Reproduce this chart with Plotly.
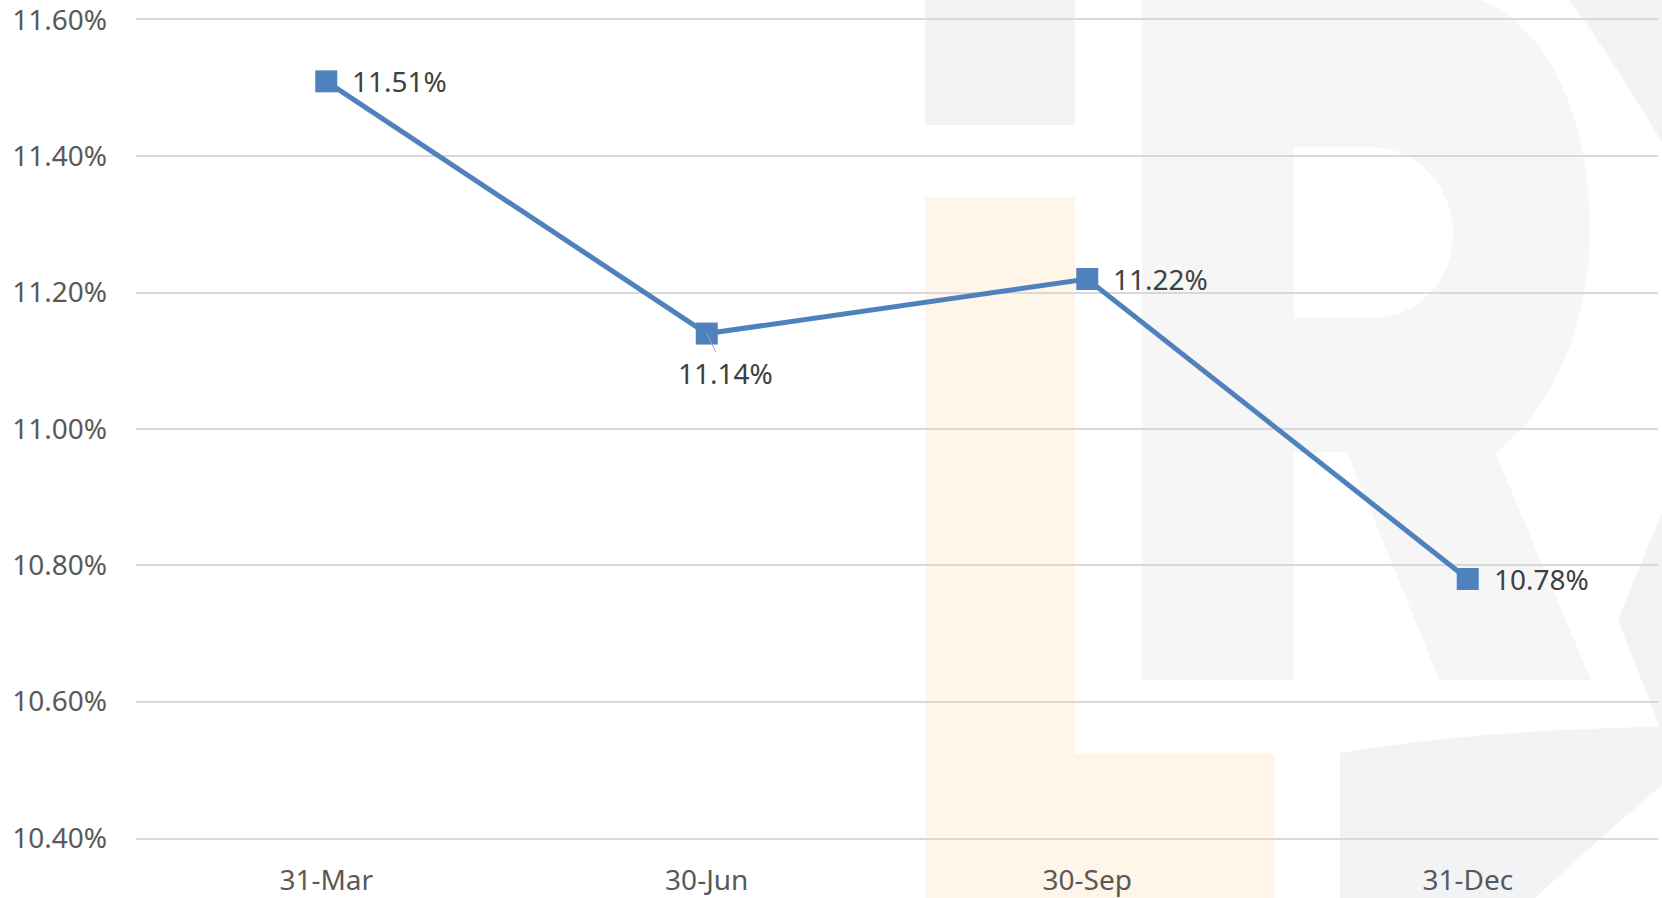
"""Ratio trimestriel avec filigrane en arrière-plan."""

import plotly.graph_objects as go

# Données
quarters = ["31-Mar", "30-Jun", "30-Sep", "31-Dec"]
ratio = [0.1151, 0.1114, 0.1122, 0.1078]
y_ticks = [0.104, 0.106, 0.108, 0.110, 0.112, 0.114, 0.116]

BLUE = "#4f81bd"
FONT = "Noto Sans"

# Zone de tracé en pixels (fenêtre 1662x898)
FIG_W, FIG_H = 1662, 898
L, T, R_M, B = 136, 20, 4, 60
PW = FIG_W - L - R_M
PH = FIG_H - T - B


def pp(x, y):
    """Pixel -> coordonnées papier."""
    return f"{(x - L) / PW:.5f},{(T + PH - y) / PH:.5f}"


def path(cmds):
    out = []
    for c in cmds:
        op, pts = c[0], c[1:]
        out.append(op + " " + " ".join(pp(*p) for p in pts))
    return " ".join(out) + " Z"


def rect(x0, y0, x1, y1, color):
    return dict(
        type="path", xref="paper", yref="paper", layer="below",
        path=path([("M", (x0, y0)), ("L", (x1, y0)), ("L", (x1, y1)), ("L", (x0, y1))]),
        fillcolor=color, line_width=0,
    )


GRAY = "#f2f3f5"
LIGHT = "#f6f6f6"
ORANGE = "#fff6e9"

# Filigrane "LR"
shapes = [
    rect(925, -5, 1075, 125, GRAY),
    rect(925, 197, 1075, 903, ORANGE),
    rect(1075, 754, 1275, 903, ORANGE),
    dict(
        type="path", xref="paper", yref="paper", layer="below",
        path=path([
            ("M", (1142, -10)), ("L", (1430, -10)),
            ("C", (1540, -10), (1590, 110), (1590, 230)),
            ("C", (1590, 330), (1545, 420), (1495, 452)),
            ("L", (1591, 680)), ("L", (1439, 680)), ("L", (1347, 452)),
            ("L", (1294, 452)), ("L", (1294, 680)), ("L", (1142, 680)),
        ]),
        fillcolor=LIGHT, line_width=0,
    ),
    dict(
        type="path", xref="paper", yref="paper", layer="below",
        path=path([
            ("M", (1294, 147)), ("L", (1369, 147)),
            ("C", (1420, 147), (1453, 190), (1453, 233)),
            ("C", (1453, 280), (1420, 318), (1369, 318)),
            ("L", (1294, 318)),
        ]),
        fillcolor="white", line_width=0,
    ),
    dict(
        type="path", xref="paper", yref="paper", layer="below",
        path=path([
            ("M", (1565, -5)), ("L", (1667, -5)), ("L", (1667, 150)),
            ("C", (1630, 90), (1600, 40), (1565, -5)),
        ]),
        fillcolor=GRAY, line_width=0,
    ),
    dict(
        type="path", xref="paper", yref="paper", layer="below",
        path=path([("M", (1667, 500)), ("L", (1618, 620)), ("L", (1667, 745))]),
        fillcolor=GRAY, line_width=0,
    ),
    dict(
        type="path", xref="paper", yref="paper", layer="below",
        path=path([
            ("M", (1340, 903)), ("L", (1340, 753)),
            ("C", (1450, 735), (1560, 728), (1667, 727)),
            ("L", (1667, 780)),
            ("C", (1610, 830), (1570, 865), (1530, 903)),
        ]),
        fillcolor=GRAY, line_width=0,
    ),
]

fig = go.Figure(
    data=go.Scatter(
        x=quarters,
        y=ratio,
        mode="lines+markers",
        line=dict(color=BLUE, width=5),
        marker=dict(symbol="square", size=22, color=BLUE),
        hoverinfo="skip",
    )
)

# Étiquettes de données
for i, (q, v) in enumerate(zip(quarters, ratio)):
    if i == 1:
        fig.add_annotation(
            x=q, y=v, text=f"{v:.2%}", showarrow=True,
            ax=19, ay=39, arrowhead=0, arrowwidth=1, arrowcolor="#a6a6a6",
            standoff=0, font=dict(family=FONT, size=28, color="#404040"),
        )
    else:
        fig.add_annotation(
            x=q, y=v, text=f"{v:.2%}", showarrow=False,
            xanchor="left", xshift=24,
            font=dict(family=FONT, size=28, color="#404040"),
        )

fig.update_layout(
    width=FIG_W,
    height=FIG_H,
    margin=dict(l=L, r=R_M, t=T, b=B),
    paper_bgcolor="white",
    plot_bgcolor="rgba(0,0,0,0)",
    showlegend=False,
    shapes=shapes,
    font=dict(family=FONT, size=28, color="#595959"),
    xaxis=dict(
        type="category",
        range=[-0.5, 3.5],
        automargin=False,
        showgrid=False,
        zeroline=False,
        showline=True,
        mirror=True,
        linecolor="#d9d9d9",
        linewidth=1.5,
        ticks="",
        ticklabelstandoff=17,
        ticklabeloverflow="allow",
    ),
    yaxis=dict(
        range=[0.104, 0.116],
        tickvals=y_ticks,
        tickformat=".2%",
        automargin=False,
        showgrid=True,
        gridcolor="#d9d9d9",
        gridwidth=1.5,
        zeroline=False,
        showline=False,
        ticks="",
        ticklabelstandoff=28,
        ticklabeloverflow="allow",
    ),
)

fig.write_html(
    "out.html",
    config={"displayModeBar": False},
    post_script="document.body.style.margin='0';",
)
